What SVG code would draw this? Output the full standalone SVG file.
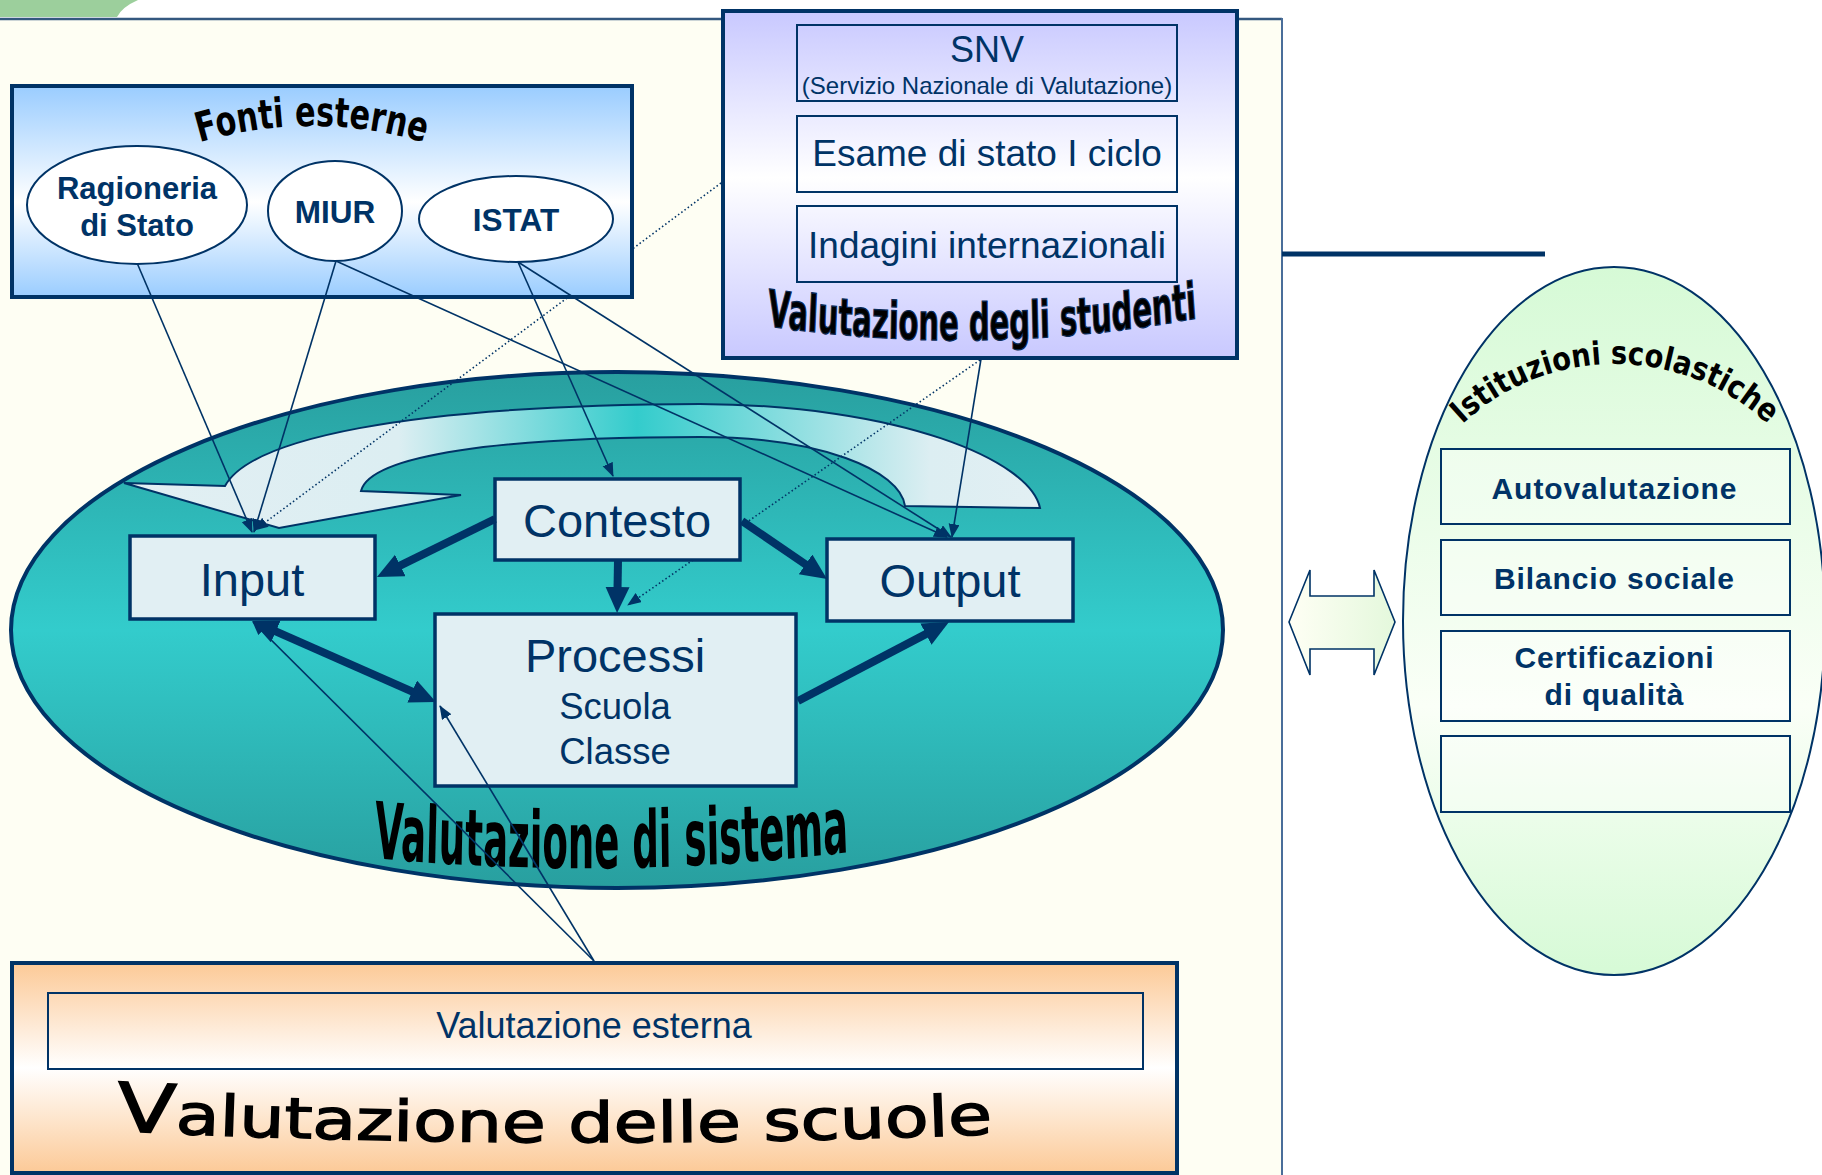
<svg xmlns="http://www.w3.org/2000/svg" width="1822" height="1175" viewBox="0 0 1822 1175">
<style>
.lbl{font-family:'Liberation Sans',Arial,sans-serif;fill:#003366;text-anchor:middle}
.b{font-weight:bold}
.wa{font-family:'DejaVu Sans Condensed','DejaVu Sans',sans-serif;font-stretch:condensed;font-weight:bold;fill:#000}
.thin{stroke:#003366;stroke-width:1.6;fill:none}
.thick{stroke:#003366;stroke-width:8;fill:none}
.dot{stroke:#003366;stroke-width:1.6;stroke-dasharray:1.5 2.5;fill:none}
.inbox{fill:#E1EFF3;stroke:#003366;stroke-width:3.5}
.sub{fill:none;stroke:#003366;stroke-width:2}
.rbox{fill:#FFFFFF;fill-opacity:0.35;stroke:#003366;stroke-width:2}
</style>
<defs>
<linearGradient id="gBlue" x1="0" y1="85" x2="0" y2="298" gradientUnits="userSpaceOnUse"><stop offset="0" stop-color="#99CCFF"/><stop offset="0.55" stop-color="#FFFFFF"/><stop offset="1" stop-color="#99CCFF"/></linearGradient>
<linearGradient id="gLav" x1="0" y1="10" x2="0" y2="359" gradientUnits="userSpaceOnUse"><stop offset="0" stop-color="#C8C8FF"/><stop offset="0.48" stop-color="#FFFFFF"/><stop offset="1" stop-color="#C8C8FF"/></linearGradient>
<linearGradient id="gTeal" x1="0" y1="372" x2="0" y2="888" gradientUnits="userSpaceOnUse"><stop offset="0" stop-color="#289F9F"/><stop offset="0.5" stop-color="#33CCCC"/><stop offset="1" stop-color="#289F9F"/></linearGradient>
<linearGradient id="gLoop" x1="124" y1="0" x2="1040" y2="0" gradientUnits="userSpaceOnUse"><stop offset="0" stop-color="#E2EFF3"/><stop offset="0.3" stop-color="#DCEEF2"/><stop offset="0.56" stop-color="#33CCCC"/><stop offset="0.88" stop-color="#DCEEF2"/><stop offset="1" stop-color="#E2EFF3"/></linearGradient>
<linearGradient id="gPeach" x1="0" y1="962" x2="0" y2="1174" gradientUnits="userSpaceOnUse"><stop offset="0" stop-color="#FCC996"/><stop offset="0.5" stop-color="#FFFFFF"/><stop offset="1" stop-color="#FCC996"/></linearGradient>
<linearGradient id="gGreen" x1="0" y1="267" x2="0" y2="976" gradientUnits="userSpaceOnUse"><stop offset="0" stop-color="#D6FAD6"/><stop offset="0.62" stop-color="#FAFFF7"/><stop offset="1" stop-color="#D6FAD6"/></linearGradient>
<linearGradient id="gArr" x1="1288" y1="0" x2="1395" y2="0" gradientUnits="userSpaceOnUse"><stop offset="0" stop-color="#FFFFF5"/><stop offset="1" stop-color="#E4F8DC"/></linearGradient>
<marker id="mThick" markerUnits="userSpaceOnUse" markerWidth="28" markerHeight="26" refX="2" refY="12" orient="auto-start-reverse"><path d="M0,0 L26,12 L0,24 z" fill="#003366"/></marker>
<marker id="mThin" markerUnits="userSpaceOnUse" markerWidth="16" markerHeight="12" refX="13" refY="5.5" orient="auto"><path d="M0,0 L14,5.5 L0,11 z" fill="#003366"/></marker>
<path id="arcFonti" d="M115.5,178.7 A393,393 0 0 1 508.5,178.7"/>
<path id="arcIst" d="M1421,476 A224,224 0 0 1 1809,476"/>
<path id="wSistema" d="M0,490.3 Q237.5,503.4 475,486.9"/>
<path id="wStudenti" d="M0,203.75 Q215.5,223.8 431,198.75"/>
<path id="wScuole" d="M116,1131 Q555,1152 993,1134"/>
</defs>

<rect x="0" y="0" width="1822" height="1175" fill="#FFFFFF"/>
<rect x="0" y="19" width="1282" height="1156" fill="#FEFEF3"/>
<path d="M0,0 L138,0 Q122,7 117,17 L0,17 Z" fill="#9CCF9C"/>
<line x1="0" y1="19" x2="1282" y2="19" stroke="#34587F" stroke-width="2.5"/>
<line x1="1282" y1="18" x2="1282" y2="1175" stroke="#4A6E9A" stroke-width="2"/>
<line x1="1282" y1="254" x2="1545" y2="254" stroke="#003366" stroke-width="5"/>

<g id="fonti-esterne">
<rect x="12" y="86" width="620" height="211" fill="url(#gBlue)" stroke="#003366" stroke-width="4"/>
<text class="wa" font-size="41"><textPath href="#arcFonti" startOffset="50%" text-anchor="middle" textLength="228" lengthAdjust="spacingAndGlyphs">Fonti esterne</textPath></text>
<g id="ragioneria"><ellipse cx="137" cy="205" rx="110" ry="59" fill="#FFFFFF" stroke="#003366" stroke-width="2"/>
<text class="lbl b" x="137" y="199" font-size="31">Ragioneria</text><text class="lbl b" x="137" y="236" font-size="31">di Stato</text></g>
<g id="miur"><ellipse cx="335" cy="211" rx="67" ry="50" fill="#FFFFFF" stroke="#003366" stroke-width="2"/>
<text class="lbl b" x="335" y="223" font-size="31.5">MIUR</text></g>
<g id="istat"><ellipse cx="516" cy="219" rx="97" ry="43" fill="#FFFFFF" stroke="#003366" stroke-width="2"/>
<text class="lbl b" x="516" y="231" font-size="31.5">ISTAT</text></g>
</g>

<g id="valutazione-studenti">
<rect x="723" y="11" width="514" height="347" fill="url(#gLav)" stroke="#003366" stroke-width="4"/>
<g id="snv"><rect class="sub" x="797" y="25" width="380" height="76"/>
<text class="lbl" x="987" y="62" font-size="36">SNV</text>
<text class="lbl" x="987" y="94" font-size="24">(Servizio Nazionale di Valutazione)</text></g>
<g id="esame"><rect class="sub" x="797" y="116" width="380" height="76"/>
<text class="lbl" x="987" y="166" font-size="37">Esame di stato I ciclo</text></g>
<g id="indagini"><rect class="sub" x="797" y="206" width="380" height="76"/>
<text class="lbl" x="987" y="258" font-size="37">Indagini internazionali</text></g>
<text class="wa" transform="translate(767,0) scale(1,1.6)" font-size="32" stroke="#0A2A55" stroke-width="0.8"><textPath href="#wStudenti" textLength="431" lengthAdjust="spacingAndGlyphs">Valutazione degli studenti</textPath></text>
</g>

<g id="valutazione-sistema">
<ellipse cx="617" cy="630" rx="606" ry="258" fill="url(#gTeal)" stroke="#003366" stroke-width="4"/>
<path d="M124,483 L225,486 C250,440 400,405 700,404 C900,405 1030,460 1040,508 L905,506 C900,470 820,437 700,437 C500,437 370,455 361,491 L461,495 L279,528 Z" fill="url(#gLoop)" stroke="#003366" stroke-width="2"/>
<text class="wa" transform="translate(374,0) scale(1,1.75)" font-size="45"><textPath href="#wSistema" textLength="475" lengthAdjust="spacingAndGlyphs">Valutazione di sistema</textPath></text>
</g>

<g id="contesto"><rect class="inbox" x="495" y="479" width="245" height="81"/><text class="lbl" x="617" y="537" font-size="47">Contesto</text></g>
<g id="input"><rect class="inbox" x="130" y="536" width="245" height="83"/><text class="lbl" x="252" y="596" font-size="47">Input</text></g>
<g id="processi"><rect class="inbox" x="435" y="614" width="361" height="172"/>
<text class="lbl" x="615" y="672" font-size="47">Processi</text>
<text class="lbl" x="615" y="719" font-size="36.5">Scuola</text>
<text class="lbl" x="615" y="764" font-size="36.5">Classe</text></g>
<g id="output"><rect class="inbox" x="827" y="539" width="246" height="82"/><text class="lbl" x="950" y="597" font-size="47">Output</text></g>

<g id="istituzioni-scolastiche">
<ellipse cx="1614" cy="621" rx="211" ry="354" fill="url(#gGreen)" stroke="#003366" stroke-width="2"/>
<text font-family="'DejaVu Sans',sans-serif" font-weight="bold" font-size="32" fill="#000"><textPath href="#arcIst" startOffset="50%" text-anchor="middle" textLength="336" lengthAdjust="spacingAndGlyphs">Istituzioni scolastiche</textPath></text>
<g id="autovalutazione"><rect class="rbox" x="1441" y="449" width="349" height="75"/>
<text class="lbl b" x="1614" y="499" font-size="30" textLength="245" lengthAdjust="spacing">Autovalutazione</text></g>
<g id="bilancio"><rect class="rbox" x="1441" y="540" width="349" height="75"/>
<text class="lbl b" x="1614" y="589" font-size="30" textLength="240" lengthAdjust="spacing">Bilancio sociale</text></g>
<g id="certificazioni"><rect class="rbox" x="1441" y="631" width="349" height="90"/>
<text class="lbl b" x="1614" y="668" font-size="30" textLength="199" lengthAdjust="spacing">Certificazioni</text>
<text class="lbl b" x="1614" y="705" font-size="30" textLength="139" lengthAdjust="spacing">di qualità</text></g>
<g id="vuoto"><rect class="rbox" x="1441" y="736" width="349" height="76"/></g>
</g>

<g id="doppia-freccia">
<path d="M1289,622 L1310,570 L1310,596 L1374,596 L1374,570 L1395,622 L1374,675 L1374,649 L1310,649 L1310,675 Z" fill="url(#gArr)" stroke="#003366" stroke-width="1.6"/>
</g>

<g id="valutazione-scuole">
<rect x="12" y="963" width="1165" height="210" fill="url(#gPeach)" stroke="#003366" stroke-width="4"/>
<g id="valutazione-esterna"><rect class="sub" x="48" y="993" width="1095" height="76"/>
<text class="lbl" x="594" y="1038" font-size="36">Valutazione esterna</text></g>
<text font-family="'DejaVu Sans',sans-serif" font-size="56" fill="#000" stroke="#000" stroke-width="1.4"><textPath href="#wScuole" textLength="877" lengthAdjust="spacingAndGlyphs"><tspan font-size="68">V</tspan>alutazione delle scuole</textPath></text>
</g>

<g id="connectors">
<path class="dot" d="M721,183 L633,248.5 M567,298 L255,530" marker-end="url(#mThin)"/>
<path class="dot" d="M980,360 L740,527 M693,560 L628,605" marker-end="url(#mThin)"/>
<line class="thin" x1="137.5" y1="264" x2="252" y2="532" marker-end="url(#mThin)"/>
<line class="thin" x1="336" y1="261" x2="254" y2="532" marker-end="url(#mThin)"/>
<line class="thin" x1="336" y1="261" x2="947" y2="537" marker-end="url(#mThin)"/>
<line class="thin" x1="518" y1="262" x2="613" y2="476" marker-end="url(#mThin)"/>
<line class="thin" x1="518" y1="262" x2="951" y2="537" marker-end="url(#mThin)"/>
<line class="thin" x1="981" y1="359" x2="952" y2="537" marker-end="url(#mThin)"/>
<line class="thin" x1="594" y1="961" x2="253" y2="622" marker-end="url(#mThin)"/>
<line class="thin" x1="594" y1="961" x2="440" y2="706" marker-end="url(#mThin)"/>
<line class="thick" x1="495" y1="519" x2="398.5" y2="566.4" marker-end="url(#mThick)"/>
<line class="thick" x1="618" y1="561" x2="617.5" y2="589" marker-end="url(#mThick)"/>
<line class="thick" x1="742" y1="521" x2="807.2" y2="565.5" marker-end="url(#mThick)"/>
<line class="thick" x1="274" y1="630.7" x2="414" y2="692.3" marker-start="url(#mThick)" marker-end="url(#mThick)"/>
<line class="thick" x1="798" y1="701" x2="927.7" y2="633.1" marker-end="url(#mThick)"/>
</g>
</svg>
